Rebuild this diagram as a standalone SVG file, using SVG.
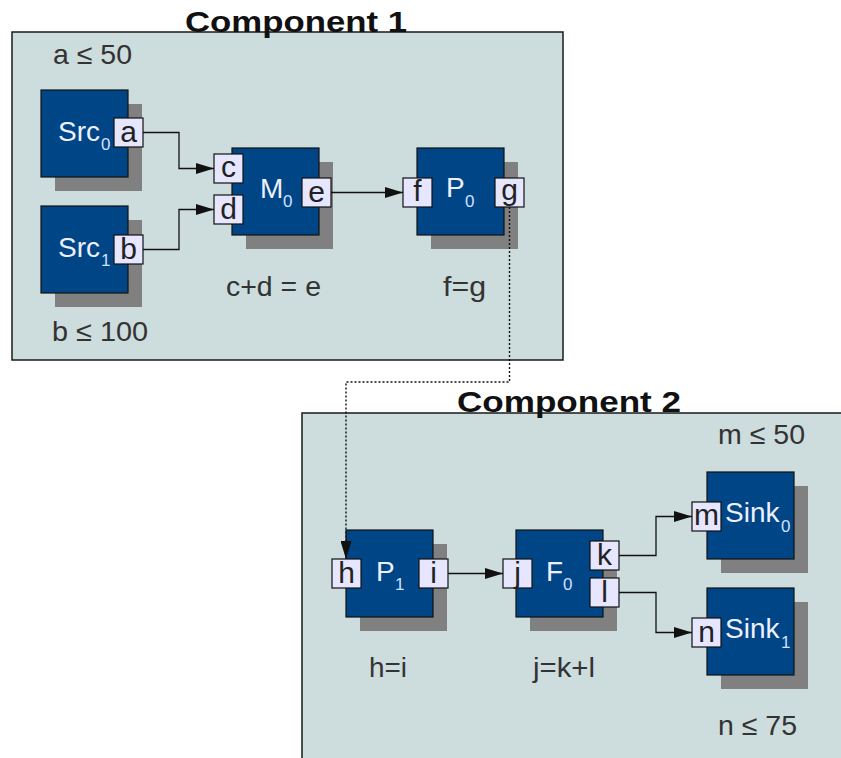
<svg xmlns="http://www.w3.org/2000/svg" width="841" height="758" viewBox="0 0 841 758">
<style>
.comp{fill:#cddcdc;stroke:#1a1a1a;stroke-width:1.5}
.title{font-family:"Liberation Sans",Arial,sans-serif;font-weight:bold;font-size:30px;fill:#111}
.node{fill:#004586;stroke:#111;stroke-width:1.2}
.shadow{fill:#808080}
.port{fill:#e6e6ff;stroke:#111;stroke-width:1.2}
.pl{font-family:"Liberation Sans",Arial,sans-serif;font-size:30px;fill:#222;text-anchor:middle}
.nl{font-family:"Liberation Sans",Arial,sans-serif;font-size:28px;fill:#eef0ff}
.sub{font-family:"Liberation Sans",Arial,sans-serif;font-size:17px;fill:#cfe0ff}
.lab{font-family:"Liberation Sans",Arial,sans-serif;font-size:28px;fill:#333}
.conn{fill:none;stroke:#111;stroke-width:1.3}
.dot{fill:none;stroke:#111;stroke-width:1.4;stroke-dasharray:2 2}
</style>
<defs>
<marker id="arr" viewBox="0 0 18 11" refX="18" refY="5.5" markerWidth="18" markerHeight="11" markerUnits="userSpaceOnUse" orient="auto">
<path d="M0,0 L18,5.5 L0,11 Z" fill="#111"/>
</marker>
</defs>

<g id="component1">
<rect class="comp" x="12" y="32" width="551" height="328"/>
<text class="title" x="185" y="32" textLength="222" lengthAdjust="spacingAndGlyphs">Component 1</text>
<text class="lab" x="53" y="64" textLength="79" lengthAdjust="spacingAndGlyphs">a ≤ 50</text>
<text class="lab" x="52" y="341" textLength="96" lengthAdjust="spacingAndGlyphs">b ≤ 100</text>
<text class="lab" x="226" y="296" textLength="95" lengthAdjust="spacingAndGlyphs">c+d = e</text>
<text class="lab" x="443" y="296" textLength="43" lengthAdjust="spacingAndGlyphs">f=g</text>
</g>

<g id="component2">
<rect class="comp" x="302" y="413" width="560" height="360"/>
<text class="title" x="457" y="412" textLength="224" lengthAdjust="spacingAndGlyphs">Component 2</text>
<text class="lab" x="718" y="444" textLength="87" lengthAdjust="spacingAndGlyphs">m ≤ 50</text>
<text class="lab" x="718" y="735" textLength="79" lengthAdjust="spacingAndGlyphs">n ≤ 75</text>
<text class="lab" x="369" y="677" textLength="38" lengthAdjust="spacingAndGlyphs">h=i</text>
<text class="lab" x="533" y="677" textLength="62" lengthAdjust="spacingAndGlyphs">j=k+l</text>
</g>

<g id="src0">
<rect class="shadow" x="55" y="104" width="87" height="87"/>
<rect class="node" x="41" y="90" width="87" height="87"/>
<text class="nl" x="58" y="141">Src</text><text class="sub" x="101" y="150">0</text>
<rect class="port" x="114" y="118" width="29" height="29"/>
<text class="pl" x="128.5" y="142">a</text>
</g>

<g id="src1">
<rect class="shadow" x="55" y="220" width="87" height="87"/>
<rect class="node" x="41" y="206" width="87" height="87"/>
<text class="nl" x="58" y="257">Src</text><text class="sub" x="101" y="266">1</text>
<rect class="port" x="114" y="235" width="29" height="29"/>
<text class="pl" x="128.5" y="259">b</text>
</g>

<g id="m0">
<rect class="shadow" x="246" y="162" width="87" height="87"/>
<rect class="node" x="232" y="148" width="87" height="87"/>
<text class="nl" x="260" y="198">M</text><text class="sub" x="283" y="207">0</text>
<rect class="port" x="214" y="154" width="29" height="29"/>
<text class="pl" x="228.5" y="177">c</text>
<rect class="port" x="214" y="195" width="29" height="29"/>
<text class="pl" x="228.5" y="219">d</text>
<rect class="port" x="302" y="178" width="29" height="29"/>
<text class="pl" x="316.5" y="202">e</text>
</g>

<g id="p0">
<rect class="shadow" x="431" y="162" width="87" height="87"/>
<rect class="node" x="417" y="148" width="87" height="87"/>
<text class="nl" x="446" y="197">P</text><text class="sub" x="465" y="207">0</text>
<rect class="port" x="403" y="178" width="29" height="29"/>
<text class="pl" x="417.5" y="201">f</text>
<rect class="port" x="495" y="178" width="29" height="29"/>
<text class="pl" x="509.5" y="200">g</text>
</g>

<g id="p1">
<rect class="shadow" x="360" y="544" width="87" height="87"/>
<rect class="node" x="346" y="530" width="87" height="87"/>
<text class="nl" x="376" y="581">P</text><text class="sub" x="395" y="590">1</text>
<rect class="port" x="332" y="559" width="29" height="29"/>
<text class="pl" x="346.5" y="583">h</text>
<rect class="port" x="419" y="559" width="29" height="29"/>
<text class="pl" x="433.5" y="583">i</text>
</g>

<g id="f0">
<rect class="shadow" x="530" y="544" width="87" height="87"/>
<rect class="node" x="516" y="530" width="87" height="87"/>
<text class="nl" x="546" y="581">F</text><text class="sub" x="563" y="590">0</text>
<rect class="port" x="503" y="559" width="29" height="29"/>
<text class="pl" x="517.5" y="583">j</text>
<rect class="port" x="590" y="541" width="29" height="29"/>
<text class="pl" x="604.5" y="565">k</text>
<rect class="port" x="590" y="578" width="29" height="29"/>
<text class="pl" x="604.5" y="602">l</text>
</g>

<g id="sink0">
<rect class="shadow" x="721" y="486" width="87" height="87"/>
<rect class="node" x="707" y="472" width="87" height="87"/>
<text class="nl" x="725" y="522">Sink</text><text class="sub" x="781" y="532">0</text>
<rect class="port" x="692" y="502" width="29" height="29"/>
<text class="pl" x="706.5" y="525" textLength="25" lengthAdjust="spacingAndGlyphs">m</text>
</g>

<g id="sink1">
<rect class="shadow" x="721" y="602" width="87" height="87"/>
<rect class="node" x="707" y="588" width="87" height="87"/>
<text class="nl" x="725" y="638">Sink</text><text class="sub" x="781" y="648">1</text>
<rect class="port" x="692" y="618" width="29" height="29"/>
<text class="pl" x="706.5" y="642">n</text>
</g>

<g id="connectors">
<path class="conn" d="M143,132.5 H179 V168.5 H214" marker-end="url(#arr)"/>
<path class="conn" d="M143,249.5 H179 V209.5 H214" marker-end="url(#arr)"/>
<path class="conn" d="M331,192.5 H403" marker-end="url(#arr)"/>
<path class="conn" d="M448,573.5 H503" marker-end="url(#arr)"/>
<path class="conn" d="M619,555.5 H656 V516.5 H692" marker-end="url(#arr)"/>
<path class="conn" d="M619,592.5 H656 V632.5 H692" marker-end="url(#arr)"/>
<path class="dot" d="M509.5,207 V382 H346 V559" marker-end="url(#arr)"/>
</g>
</svg>
